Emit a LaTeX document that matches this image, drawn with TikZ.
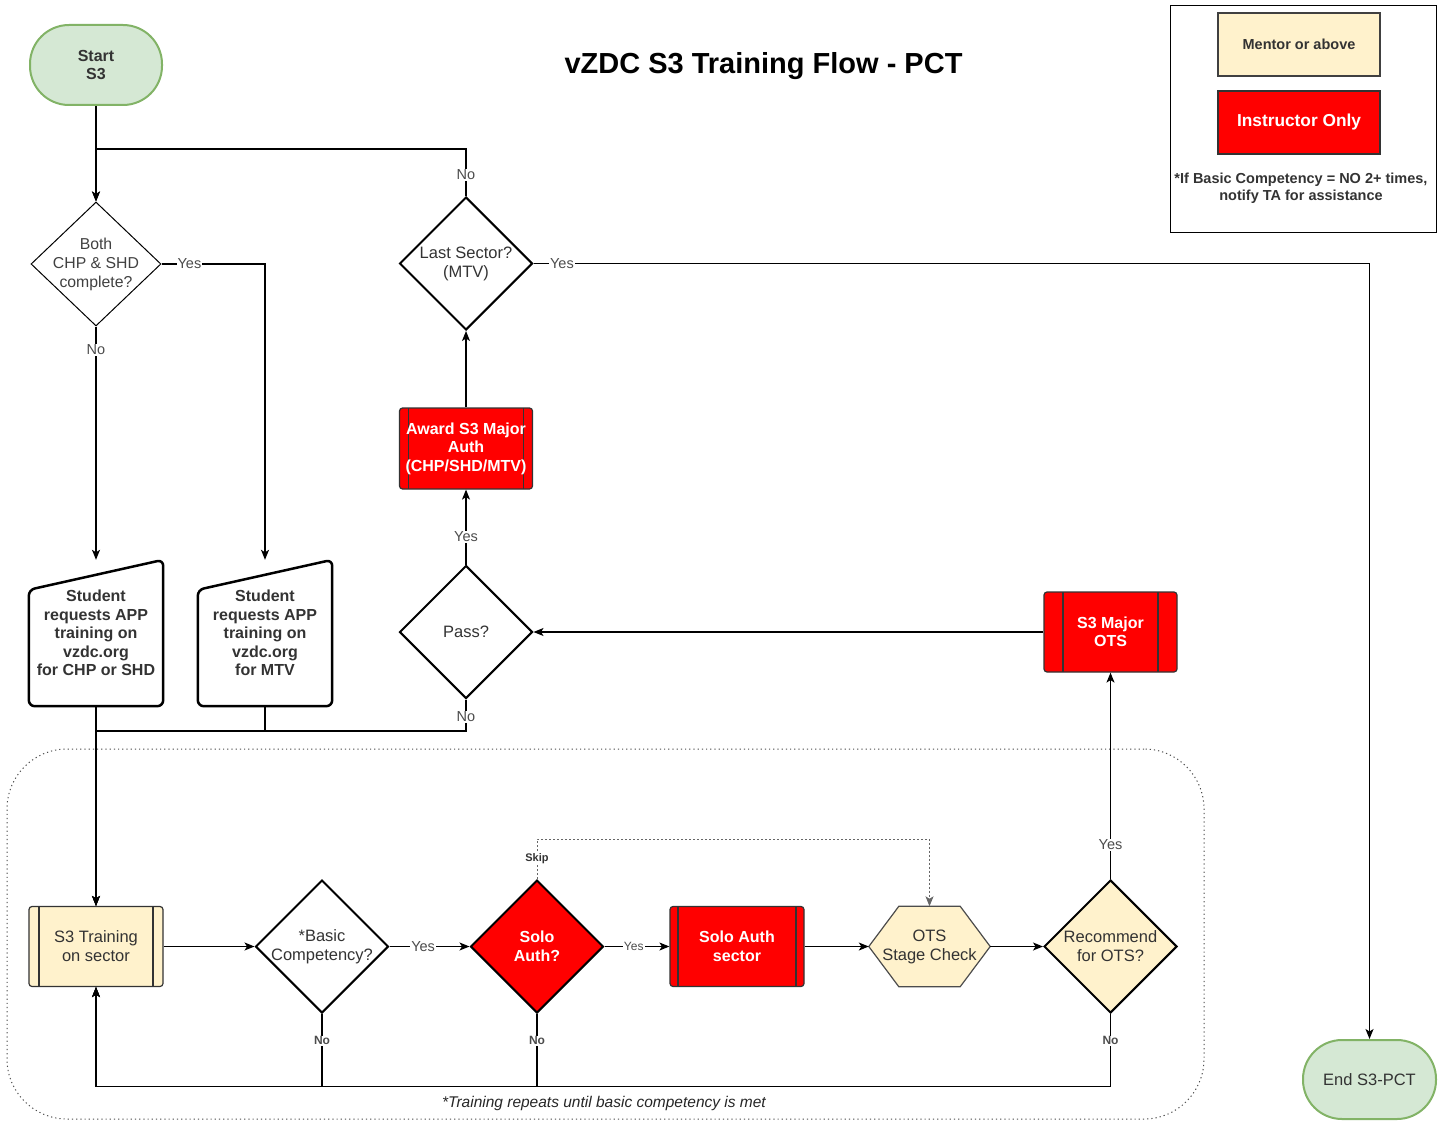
\documentclass[tikz,border=0pt]{standalone}
\usepackage{fontspec}
\setmainfont{Liberation Sans}
\setsansfont{Liberation Sans}
\usepackage{tikz}
\usetikzlibrary{arrows.meta,calc,positioning,shapes,backgrounds}
\tikzset{
  flownode/.style = {align=center, inner sep=2pt, text=black!80, text centered,
  font=\sffamily\fontsize{16.5}{19}\selectfont},
  arn_d/.style = {flownode, diamond, draw=black, line width=2pt, inner sep=-6pt,
  minimum width=133, minimum height=133},
  arn_p/.style = {flownode, rectangle, rounded corners=3pt, draw=black!80, line width=1.2pt,
  minimum width=134, minimum height=80,
  path picture={\draw[black!80, line width=1.2pt]
    ([xshift=#1]path picture bounding box.north west) -- ([xshift=#1]path picture bounding box.south west)
    ([xshift=-#1]path picture bounding box.north east) -- ([xshift=-#1]path picture bounding box.south east);}},
  arn_t/.style = {flownode, rectangle, rounded corners=39pt, draw=my_green_line, fill=my_green,
  line width=2pt, minimum width=132, minimum height=80},
  arn_s/.style = {flownode, rectangle, minimum width=134, minimum height=146,
  font=\sffamily\bfseries\fontsize{16}{18.5}\selectfont},
  lbl/.style = {font=\sffamily\fontsize{14.5}{16}\selectfont, text=black!70, fill=white, inner sep=1pt},
  lbl_s/.style = {lbl, font=\sffamily\bfseries\fontsize{12}{14}\selectfont}
}
\definecolor{my_green}{RGB}{213, 232, 212}
\definecolor{my_green_line}{RGB}{130, 179, 102}
\definecolor{my_yellow}{RGB}{255, 242, 204}
\definecolor{my_red}{RGB}{255, 0, 0}

\begin{document}
\begin{tikzpicture}[x=1pt, y=-1pt, >={Stealth[length=10pt, width=8pt, inset=2.5pt]},
        conn/.style={->, line width=1.2pt},
        mentor/.style={fill=my_yellow},
        instr/.style={fill=my_red, text=white, font=\sffamily\bfseries\fontsize{16}{18.5}\selectfont}]
    \useasboundingbox (0,0) rectangle (1445,1121);

    % title and legend
    \node [font=\sffamily\bfseries\fontsize{29}{34}\selectfont] (title) at (763.5,66) {vZDC S3 Training Flow - PCT};
    \node [draw=black, line width=1pt, minimum width=266, minimum height=226] (legend) at (1303,119) {};
    \node [flownode, draw=black!75, line width=1.2pt, mentor, minimum width=162, minimum height=63,
        font=\sffamily\bfseries\fontsize{14.5}{17}\selectfont] (leg_m) at (1299,44.5) {Mentor or above};
    \node [flownode, draw=black!80, line width=1.2pt, instr, minimum width=162, minimum height=63,
        font=\sffamily\bfseries\fontsize{17.3}{20}\selectfont] (leg_i) at (1299,122.5) {Instructor Only};
    \node [flownode, font=\sffamily\bfseries\fontsize{14.5}{17}\selectfont] (note) at (1301,188)
        {*If Basic Competency = NO 2+ times,\\notify TA for assistance};

    % upper part
    \node [arn_t, font=\sffamily\bfseries\fontsize{16}{18.5}\selectfont] (start) at (96,65) {Start\\S3};
    \node [arn_d, line width=1pt, minimum width=130, minimum height=124, text=black!75,
        font=\sffamily\fontsize{15.8}{19}\selectfont] (both) at (96,264) {Both\\CHP \& SHD\\complete?};
    \node [arn_d] (last) at (466,263.5) {Last Sector?\\(MTV)};
    \node [arn_s] (reqA) at (96,633) {Student\\requests APP\\training on\\vzdc.org\\for CHP or SHD};
    \node [arn_s] (reqB) at (265,633) {Student\\requests APP\\training on\\vzdc.org\\for MTV};
    \draw [line width=2.5pt, rounded corners=6pt] (reqA.south west) -- (reqA.south east) -- (reqA.north east)
        -- ([yshift=-30pt]reqA.north west) -- cycle;
    \draw [line width=2.5pt, rounded corners=6pt] (reqB.south west) -- (reqB.south east) -- (reqB.north east)
        -- ([yshift=-30pt]reqB.north west) -- cycle;
    \node [arn_p=9, instr, minimum width=133, minimum height=81] (award) at (466,448.5) {Award S3 Major\\Auth\\(CHP/SHD/MTV)};
    \node [arn_d] (pass) at (466,632) {Pass?};
    \node [arn_p=19, instr, minimum width=133] (major) at (1110.5,632) {S3 Major\\OTS};

    % training loop
    \node [draw=black!70, line width=1pt, dash pattern=on 1.2pt off 3pt, rounded corners=60pt,
        minimum width=1197, minimum height=370] (loop) at (605.5,934) {};
    \node [arn_p=10, mentor] (train) at (96,946.5) {S3 Training\\on sector};
    \node [arn_d] (basic) at (322,946.5) {*Basic\\Competency?};
    \node [arn_d, instr, line width=2pt] (solo) at (537,946.5) {Solo\\Auth?};
    \node [arn_p=8, instr] (sector) at (737,946.5) {Solo Auth\\sector};
    \node [flownode, minimum width=121, minimum height=80] (stage) at (929.5,946.5) {OTS\\Stage Check};
    \begin{scope}[on background layer]
        \filldraw [fill=my_yellow, draw=black!70, line width=1.2pt]
            ([xshift=30pt]stage.north west) -- ([xshift=-30pt]stage.north east) -- (stage.east)
            -- ([xshift=-30pt]stage.south east) -- ([xshift=30pt]stage.south west) -- (stage.west) -- cycle;
    \end{scope}
    \node [arn_d, mentor] (rec) at (1110.5,946.5) {Recommend\\for OTS?};
    \node [font=\sffamily\itshape\fontsize{15.5}{18}\selectfont, text=black!85] (foot) at (604,1103)
        {*Training repeats until basic competency is met};
    \node [arn_t, minimum width=133, minimum height=79] (end) at (1369.5,1079.5) {End S3-PCT};

    % connectors
    \draw [conn] (start) -- (both);
    \draw [conn] (last.north) -- node[lbl, pos=0.45] {No} ++(0,-47) -| (both.north);
    \draw [conn] (both.east) -- node[lbl, pos=0.27] {Yes} (both.east -| reqB.north) -- (reqB.north);
    \draw [conn] (both.south) -- node[lbl, pos=0.1] {No} (reqA.north);
    \draw [conn] (last.east) -- node[lbl, pos=0.034] {Yes} (last.east -| end.north) -- (end.north);
    \draw [conn] (award.north) -- (last.south);
    \draw [conn] (pass.north) -- node[lbl, pos=0.37] {Yes} (award.south);
    \draw [conn] (major.west) -- (pass.east);
    \draw [conn] (reqA.south) -- (train.north);
    \draw [conn] (reqB.south) -- ++(0,24) -| (train.north);
    \draw [conn] (pass.south) -- node[lbl, pos=0.55] {No} ++(0,31.5) -| (train.north);
    \draw [conn] (train.east) -- (basic.west);
    \draw [conn] (basic.east) -- node[lbl, pos=0.42] {Yes} (solo.west);
    \draw [conn] (basic.south) -- node[lbl_s, pos=0.37] {No} ++(0,72.5) -| (train.south);
    \draw [conn] (solo.east) -- node[lbl_s, font=\sffamily\fontsize{12}{14}\selectfont, pos=0.45] {Yes} (sector.west);
    \draw [conn] (solo.south) -- node[lbl_s, pos=0.37] {No} ++(0,72.5) -| (train.south);
    \draw [conn, line width=1pt, black!60, dash pattern=on 2pt off 2pt] (solo.north)
        -- node[lbl_s, text=black!80, font=\sffamily\bfseries\fontsize{11}{13}\selectfont, pos=0.5] {Skip} ++(0,-40) -| (stage.north);
    \draw [conn] (sector.east) -- (stage.west);
    \draw [conn] (stage.east) -- (rec.west);
    \draw [conn] (rec.north) -- node[lbl, pos=0.166] {Yes} (major.south);
    \draw [conn] (rec.south) -- node[lbl_s, pos=0.37] {No} ++(0,72.5) -| (train.south);
\end{tikzpicture}
\end{document}
